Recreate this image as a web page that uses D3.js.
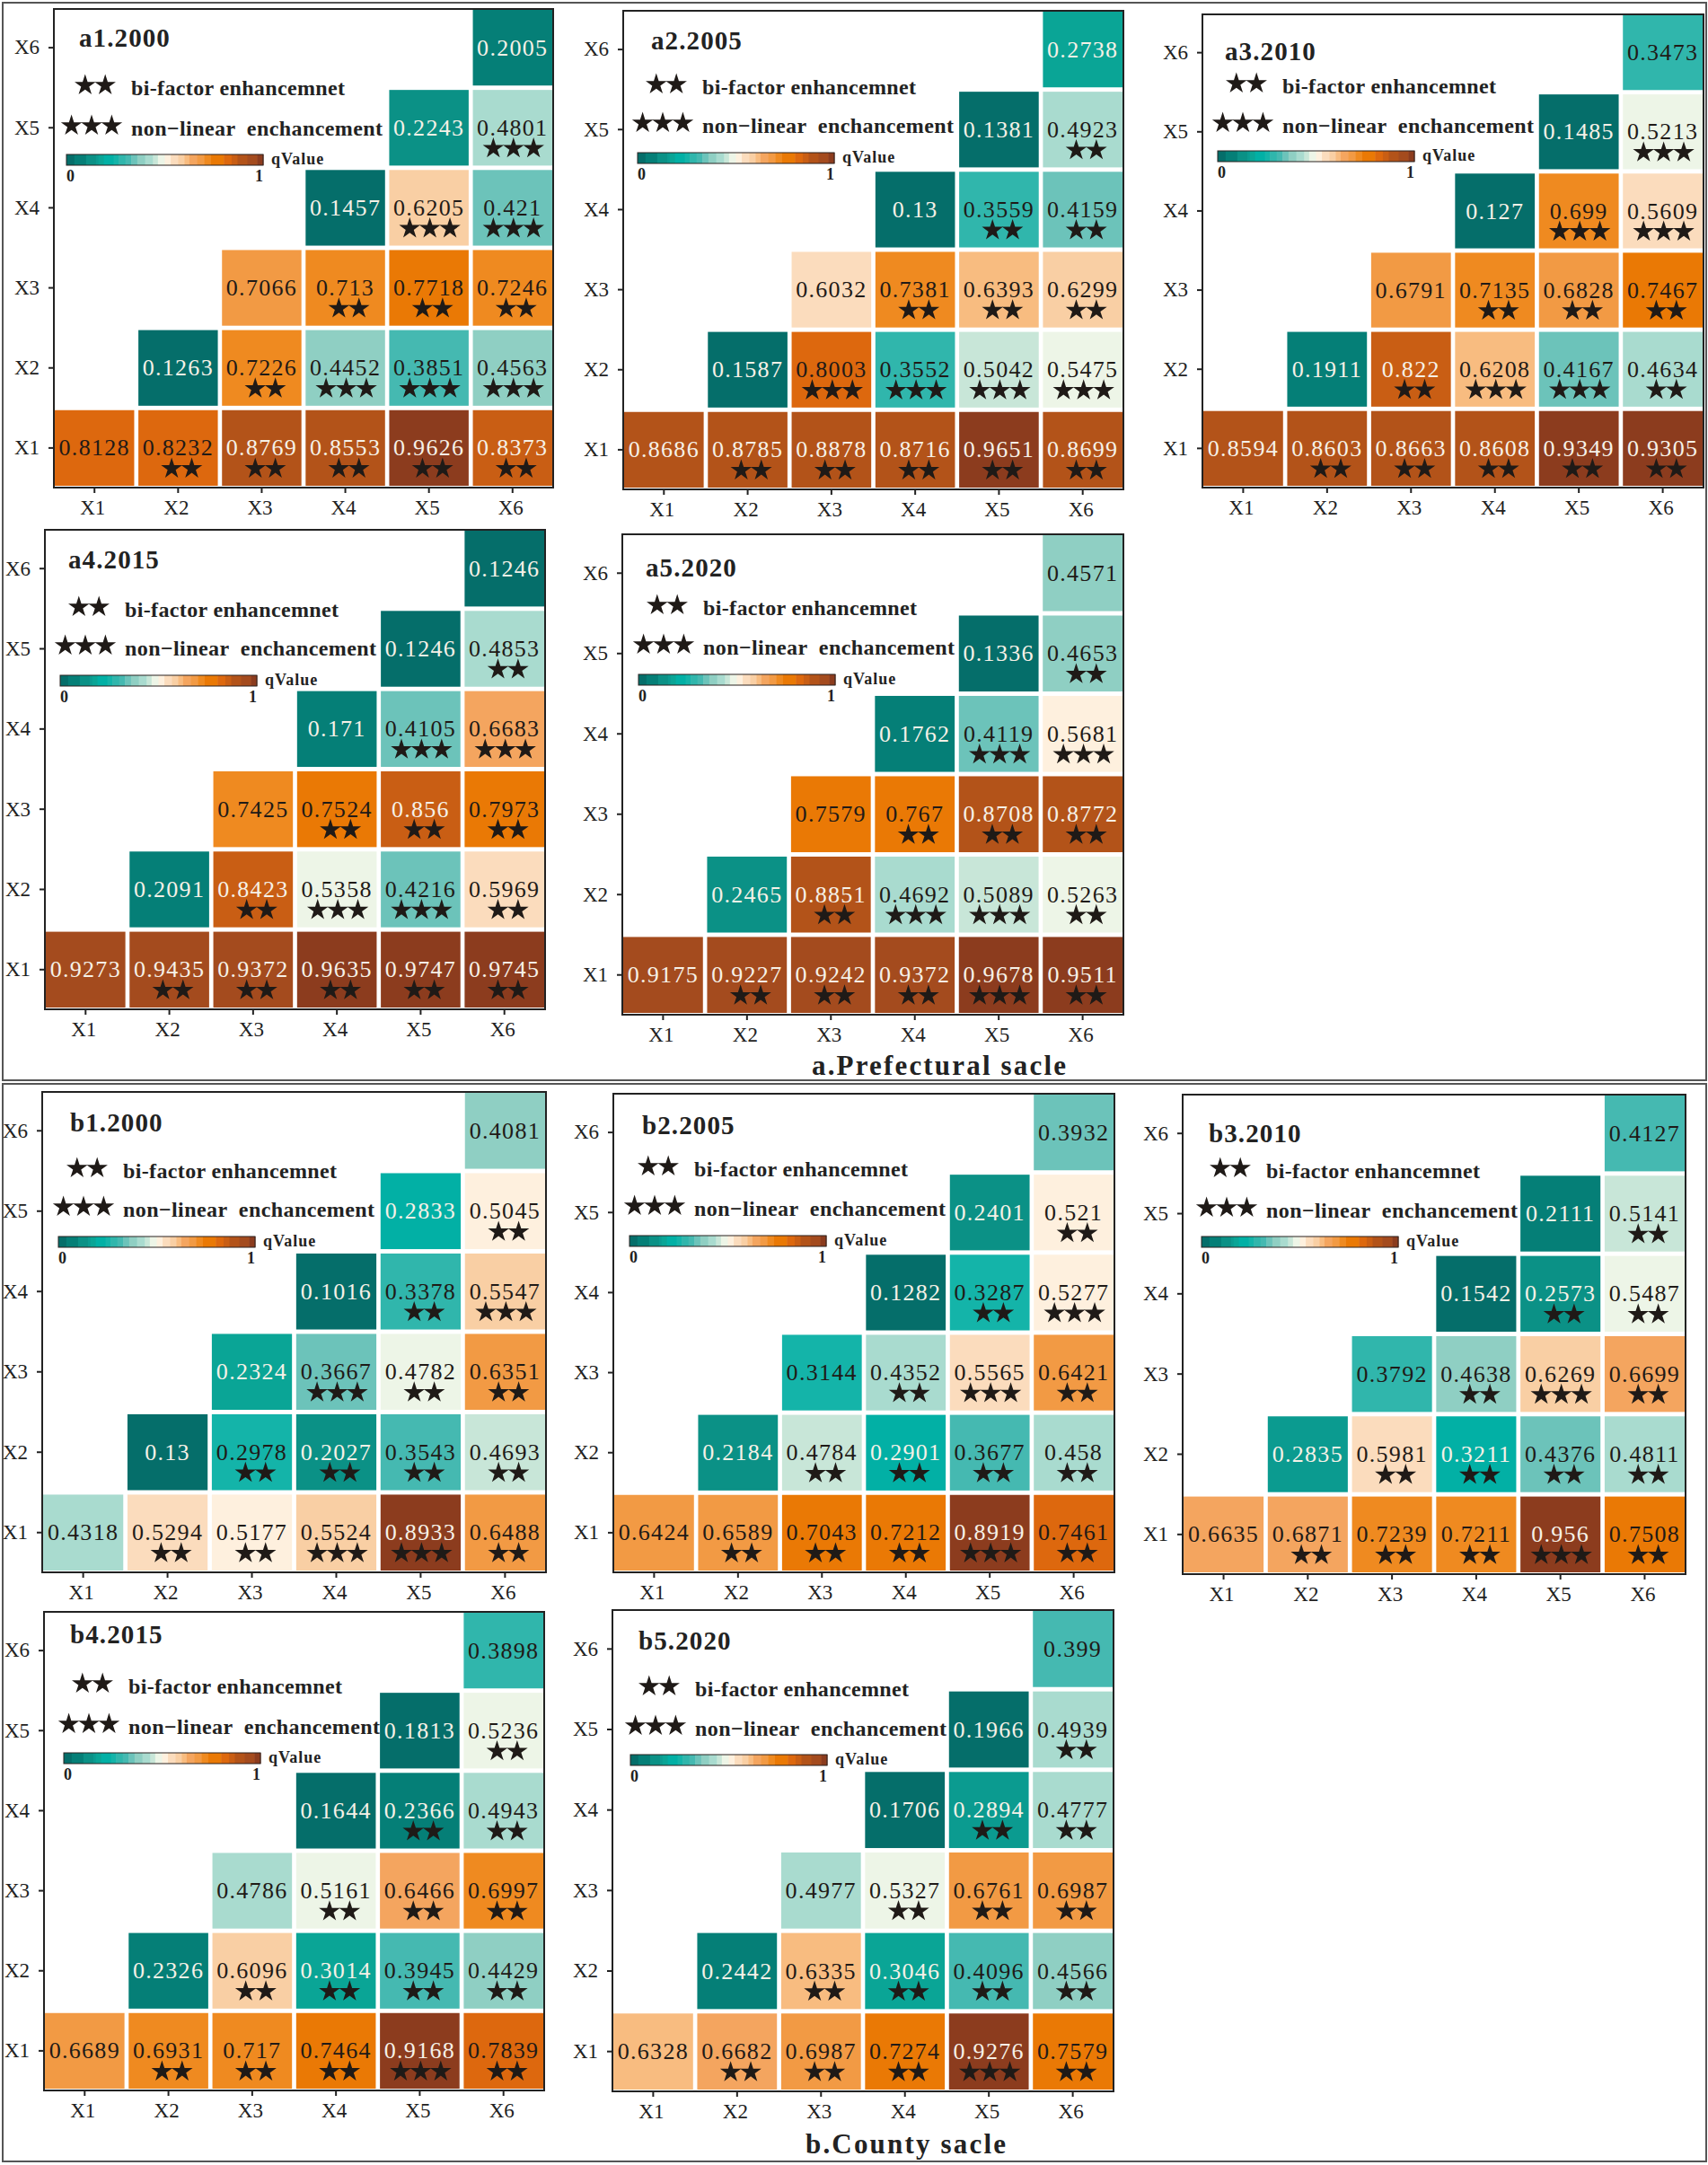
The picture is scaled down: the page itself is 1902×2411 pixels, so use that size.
<!DOCTYPE html>
<html>
<head>
<meta charset="utf-8">
<script src="https://cdn.jsdelivr.net/npm/d3@7"></script>
<style>
    html, body { margin: 0; padding: 0; background: #fff; }
    svg { display: block; }
    text { font-family: "Liberation Serif", serif; white-space: pre; }
</style>
</head>
<body>
<div id="chart"></div>
<script>
// Parameters
const factors = ["X1", "X2", "X3", "X4", "X5", "X6"];

// q values, one row per y factor, starting on the diagonal
const a1Values = [[.8128, .8232, .8769, .8553, .9626, .8373], [.1263, .7226, .4452, .3851, .4563], [.7066, .713, .7718, .7246], [.1457, .6205, .421], [.2243, .4801], [.2005]];
const a2Values = [[.8686, .8785, .8878, .8716, .9651, .8699], [.1587, .8003, .3552, .5042, .5475], [.6032, .7381, .6393, .6299], [.13, .3559, .4159], [.1381, .4923], [.2738]];
const a3Values = [[.8594, .8603, .8663, .8608, .9349, .9305], [.1911, .822, .6208, .4167, .4634], [.6791, .7135, .6828, .7467], [.127, .699, .5609], [.1485, .5213], [.3473]];
const a4Values = [[.9273, .9435, .9372, .9635, .9747, .9745], [.2091, .8423, .5358, .4216, .5969], [.7425, .7524, .856, .7973], [.171, .4105, .6683], [.1246, .4853], [.1246]];
const a5Values = [[.9175, .9227, .9242, .9372, .9678, .9511], [.2465, .8851, .4692, .5089, .5263], [.7579, .767, .8708, .8772], [.1762, .4119, .5681], [.1336, .4653], [.4571]];
const b1Values = [[.4318, .5294, .5177, .5524, .8933, .6488], [.13, .2978, .2027, .3543, .4693], [.2324, .3667, .4782, .6351], [.1016, .3378, .5547], [.2833, .5045], [.4081]];
const b2Values = [[.6424, .6589, .7043, .7212, .8919, .7461], [.2184, .4784, .2901, .3677, .458], [.3144, .4352, .5565, .6421], [.1282, .3287, .5277], [.2401, .521], [.3932]];
const b3Values = [[.6635, .6871, .7239, .7211, .956, .7508], [.2835, .5981, .3211, .4376, .4811], [.3792, .4638, .6269, .6699], [.1542, .2573, .5487], [.2111, .5141], [.4127]];
const b4Values = [[.6689, .6931, .717, .7464, .9168, .7839], [.2326, .6096, .3014, .3945, .4429], [.4786, .5161, .6466, .6997], [.1644, .2366, .4943], [.1813, .5236], [.3898]];
const b5Values = [[.6328, .6682, .6987, .7274, .9276, .7579], [.2442, .6335, .3046, .4096, .4566], [.4977, .5327, .6761, .6987], [.1706, .2894, .4777], [.1966, .4939], [.399]];

// number of stars in each cell (2 bi-factor, 3 non-linear)
const a1Stars = [[0, 2, 2, 2, 2, 2], [0, 2, 3, 3, 3], [0, 2, 2, 2], [0, 3, 3], [0, 3], [0]];
const a2Stars = [[0, 2, 2, 2, 2, 2], [0, 3, 3, 3, 3], [0, 2, 2, 2], [0, 2, 2], [0, 2], [0]];
const a3Stars = [[0, 2, 2, 2, 2, 2], [0, 2, 3, 3, 2], [0, 2, 2, 2], [0, 3, 3], [0, 3], [0]];
const a4Stars = [[0, 2, 2, 2, 2, 2], [0, 2, 3, 3, 2], [0, 2, 2, 2], [0, 3, 3], [0, 2], [0]];
const a5Stars = [[0, 2, 2, 2, 3, 2], [0, 2, 3, 3, 2], [0, 2, 2, 2], [0, 3, 3], [0, 2], [0]];
const b1Stars = [[0, 2, 2, 3, 3, 2], [0, 2, 2, 2, 2], [0, 3, 2, 2], [0, 2, 3], [0, 2], [0]];
const b2Stars = [[0, 2, 2, 2, 3, 2], [0, 2, 2, 2, 2], [0, 2, 3, 2], [0, 2, 3], [0, 2], [0]];
const b3Stars = [[0, 2, 2, 2, 3, 2], [0, 2, 2, 2, 2], [0, 2, 3, 2], [0, 2, 2], [0, 2], [0]];
const b4Stars = [[0, 2, 2, 2, 3, 2], [0, 2, 2, 2, 2], [0, 2, 2, 2], [0, 2, 2], [0, 2], [0]];
const b5Stars = [[0, 2, 2, 2, 3, 2], [0, 2, 2, 2, 2], [0, 2, 2, 2], [0, 2, 2], [0, 2], [0]];

const panelTitles = ["a1.2000", "a2.2005", "a3.2010", "a4.2015", "a5.2020", "b1.2000", "b2.2005", "b3.2010", "b4.2015", "b5.2020"];
const panelValues = [a1Values, a2Values, a3Values, a4Values, a5Values, b1Values, b2Values, b3Values, b4Values, b5Values];
const panelStars = [a1Stars, a2Stars, a3Stars, a4Stars, a5Stars, b1Stars, b2Stars, b3Stars, b4Stars, b5Stars];

// Colour bands of the legend bar, on 0-1 of each panel's own min-max
const bandStops = [.04, .10, .15, .163, .19, .24, .265, .30, .33, .36, .40, .44, .465, .50, .53, .568, .60, .625, .665, .70, .735, .80, .84, .87, .92, .97];
const bandColors = ["#056e6a", "#057f77", "#0b9186", "#0b9b90", "#0aa596", "#02b0a5", "#14b4a9", "#30b6ac", "#45b9b1", "#6cc3ba", "#8fcfc3", "#a9dbcf", "#c8e6d8", "#edf5e7", "#fef0de", "#fbdcbd", "#f9cfa4", "#f8bc80", "#f4a55f", "#f29a44", "#ef8a20", "#ea7905", "#dd680e", "#c95e14", "#b35319", "#a44b1e", "#8c3c1e"];

// Layout: frame [left, top, right, bottom], legend offsets from the frame
const frames = [[60, 10, 616, 543], [694, 12, 1251, 545], [1339, 16, 1897, 543], [50, 590, 607, 1124], [693, 595, 1251, 1130],
    [47, 1216, 608, 1751], [683, 1218, 1241, 1751], [1317, 1219, 1877, 1753], [49, 1795, 606, 2328], [682, 1793, 1240, 2329]];
const barLeft = [14, 16, 17, 17, 18, 18, 18, 21, 22, 20];
const titleDx = [14, 15, 8, 9, 8, 13, 14, 8, 7, 9];
const titleDy = [42, 43, 51, 43, 47, 44, 45, 53, 35, 44];
const twoDy = [85, 82, 77, 86, 79, 85, 81, 82, 80, 85];
const threeDy = [130, 125, 121, 129, 123, 128, 125, 126, 125, 129];
const barDy = [162, 158, 152, 162, 156, 161, 158, 158, 157, 161];

const inkColor = "#1f1a17";
const lightText = "#f6f1e7";
const star = d3.symbol().type(d3.symbolStar).size(172);
const band = d3.scaleThreshold().domain(bandStops).range(bandColors);

const svg = d3.select("#chart").append("svg")
    .attr("width", 1902)
    .attr("height", 2411);

// Outer boxes of the two groups
svg.selectAll("rect.group")
    .data([[3, 3, 1897, 1200], [3, 1207, 1897, 1200]])
    .enter().append("rect")
    .attr("class", "group")
    .attr("x", d => d[0])
    .attr("y", d => d[1])
    .attr("width", d => d[2])
    .attr("height", d => d[3])
    .attr("fill", "none")
    .attr("stroke", "#555")
    .attr("stroke-width", 2);

svg.selectAll("text.group")
    .data([
        { label: "a.Prefectural sacle", x: 904, y: 1197, w: 283 },
        { label: "b.County sacle", x: 897, y: 2398, w: 223 }
    ])
    .enter().append("text")
    .attr("class", "group")
    .attr("x", d => d.x)
    .attr("y", d => d.y)
    .attr("textLength", d => d.w)
    .attr("font-size", 31)
    .attr("font-weight", "bold")
    .attr("fill", "#222")
    .text(d => d.label);

panelTitles.forEach((title, i) => drawPanel(i, title));

function drawStars(g, count, cx, cy) {
    g.selectAll(null)
        .data(d3.range(count))
        .enter().append("path")
        .attr("d", star)
        .attr("fill", inkColor)
        .attr("transform", k => `translate(${cx + (k - (count - 1) / 2) * 22.4},${cy})`);
}

function drawPanel(i, title) {
    const [left, top, right, bottom] = frames[i];
    const g = svg.append("g");

    const x = d3.scaleBand().domain(factors).range([left + 1, right - 1]).paddingInner(0.05);
    const y = d3.scaleBand().domain(factors).range([bottom - 2, top + 1]).paddingInner(0.055);

    const cells = [];
    panelValues[i].forEach((row, r) => row.forEach((value, k) => {
        cells.push({ xKey: factors[r + k], yKey: factors[r], value, stars: panelStars[i][r][k] });
    }));

    // each panel's colours run from its own smallest to largest q
    const t = d3.scaleLinear().domain(d3.extent(cells, d => d.value)).range([0, 1]);

    g.selectAll("rect.cell")
        .data(cells)
        .enter().append("rect")
        .attr("class", "cell")
        .attr("x", d => x(d.xKey))
        .attr("y", d => y(d.yKey))
        .attr("width", x.bandwidth())
        .attr("height", y.bandwidth())
        .attr("fill", d => band(t(d.value)));

    g.selectAll("text.cell")
        .data(cells)
        .enter().append("text")
        .attr("class", "cell")
        .attr("x", d => x(d.xKey) + x.bandwidth() / 2)
        .attr("y", d => y(d.yKey) + y.bandwidth() / 2)
        .attr("dy", "0.33em")
        .attr("text-anchor", "middle")
        .attr("font-size", 26)
        .attr("letter-spacing", 1.3)
        .attr("fill", d => (t(d.value) < 0.24 || t(d.value) >= 0.84) ? lightText : inkColor)
        .text(d => String(d.value).replace(/^\./, "0."));

    cells.filter(d => d.stars > 0).forEach(d => {
        drawStars(g, d.stars, x(d.xKey) + x.bandwidth() / 2 + (d.stars === 2 ? 4 : 1), y(d.yKey) + y.bandwidth() / 2 + 23);
    });

    // Frame and axes
    g.append("rect")
        .attr("x", left)
        .attr("y", top)
        .attr("width", right - left)
        .attr("height", bottom - top)
        .attr("fill", "none")
        .attr("stroke", "#222")
        .attr("stroke-width", 2);

    const xAxis = g.append("g")
        .attr("transform", `translate(0,${bottom})`)
        .call(d3.axisBottom(x).tickSize(6).tickPadding(8));
    const yAxis = g.append("g")
        .attr("transform", `translate(${left},0)`)
        .call(d3.axisLeft(y).tickSize(6).tickPadding(10));
    xAxis.selectAll("text").attr("dx", -2);
    [xAxis, yAxis].forEach(axis => {
        axis.select(".domain").remove();
        axis.selectAll("line").attr("stroke", "#222").attr("stroke-width", 2);
        axis.selectAll("text")
            .attr("fill", "#222")
            .style("font-family", '"Liberation Serif", serif')
            .style("font-size", "23px");
    });

    // Legend
    const barX = left + barLeft[i];
    const barY = top + barDy[i];

    g.append("text")
        .attr("x", barX + titleDx[i])
        .attr("y", top + titleDy[i])
        .attr("font-size", 29)
        .attr("font-weight", "bold")
        .attr("letter-spacing", 1.1)
        .attr("fill", "#222")
        .text(title);

    drawStars(g, 2, barX + 32, top + twoDy[i]);
    drawStars(g, 3, barX + 28, top + threeDy[i]);

    g.append("text")
        .attr("x", barX + 72)
        .attr("y", top + twoDy[i] + 11)
        .attr("textLength", 238)
        .attr("font-size", 24)
        .attr("font-weight", "bold")
        .attr("fill", "#222")
        .text("bi-factor enhancemnet");

    g.append("text")
        .attr("x", barX + 72)
        .attr("y", top + threeDy[i] + 11)
        .attr("textLength", 280)
        .attr("font-size", 24)
        .attr("font-weight", "bold")
        .attr("fill", "#222")
        .text("non\u2212linear  enchancement");

    const barScale = d3.scaleLinear().domain([0, 1]).range([barX, barX + 219]);
    g.selectAll("rect.bar")
        .data(band.range())
        .enter().append("rect")
        .attr("class", "bar")
        .attr("x", c => barScale(band.invertExtent(c)[0] ?? 0))
        .attr("y", barY)
        .attr("width", c => barScale(band.invertExtent(c)[1] ?? 1) - barScale(band.invertExtent(c)[0] ?? 0) + 0.5)
        .attr("height", 12)
        .attr("fill", c => c);

    g.append("rect")
        .attr("x", barX)
        .attr("y", barY)
        .attr("width", 219)
        .attr("height", 12)
        .attr("fill", "none")
        .attr("stroke", "#2a2320")
        .attr("stroke-width", 1);

    g.selectAll("text.bar")
        .data([0, 1])
        .enter().append("text")
        .attr("class", "bar")
        .attr("x", d => barScale(d))
        .attr("y", barY + 30)
        .attr("text-anchor", d => d === 0 ? "start" : "end")
        .attr("font-size", 18)
        .attr("font-weight", "bold")
        .attr("fill", "#222")
        .text(d => d);

    g.append("text")
        .attr("x", barX + 228)
        .attr("y", barY + 11)
        .attr("font-size", 18)
        .attr("font-weight", "bold")
        .attr("letter-spacing", 1)
        .attr("fill", "#222")
        .text("qValue");
}
</script>
</body>
</html>
